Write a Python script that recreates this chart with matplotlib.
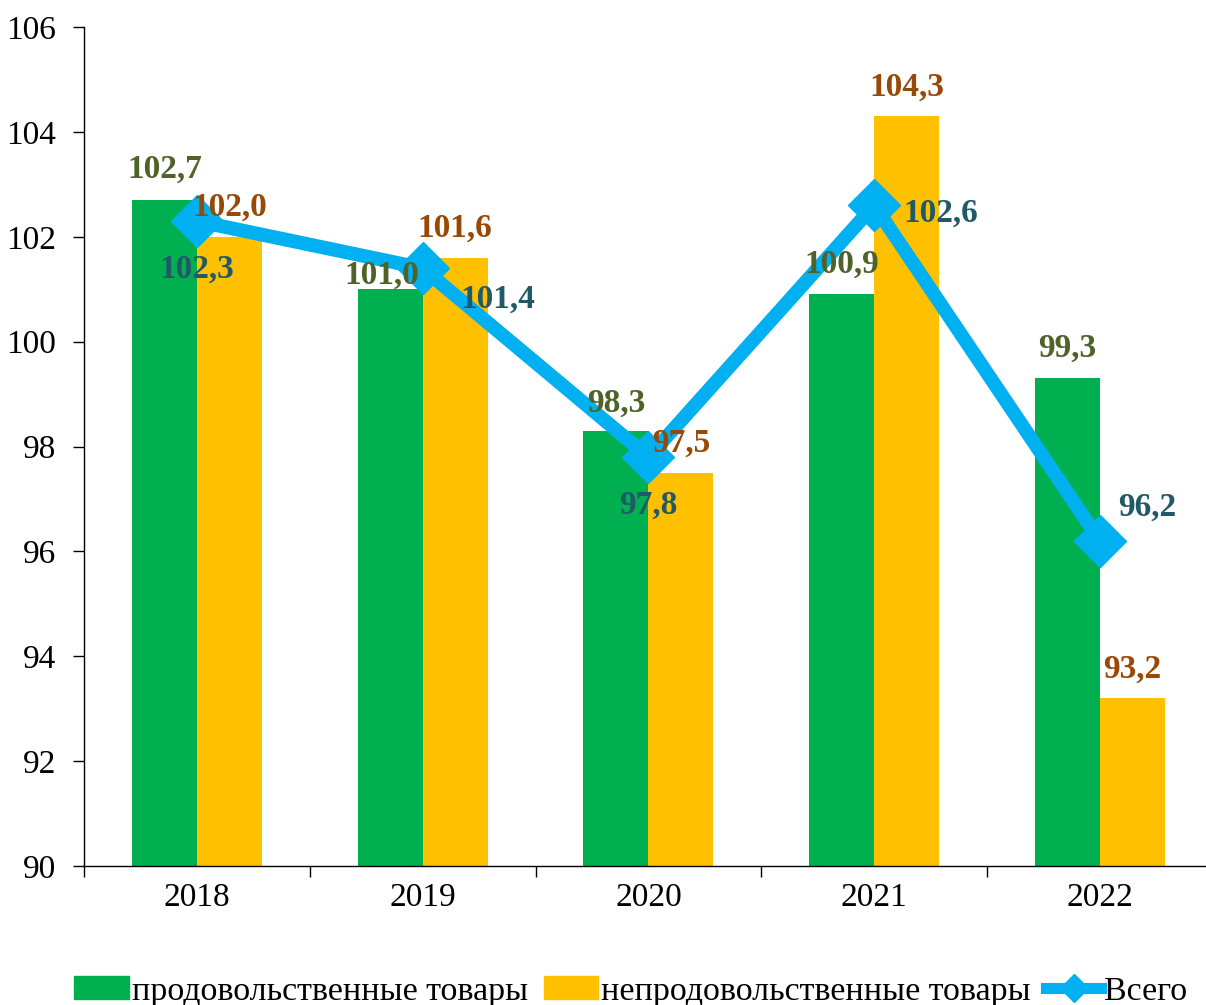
import numpy as np
import matplotlib.pyplot as plt
from matplotlib.lines import Line2D
from matplotlib.patches import Patch

years = ['2018', '2019', '2020', '2021', '2022']
food = [102.7, 101.0, 98.3, 100.9, 99.3]
nonfood = [102.0, 101.6, 97.5, 104.3, 93.2]
total = [102.3, 101.4, 97.8, 102.6, 96.2]

# label offsets in points (dx, dy) from the value anchor
food_off = [(0, 22), (-6, 10), (0, 20), (0, 22), (0, 22)]
nonfood_off = [(0, 21), (0, 21), (0, 21), (0, 21), (0, 21)]
total_off = [(0, -35), (54, -22), (0, -35), (48, -6), (34, 24)]

plt.rcParams['font.family'] = ['Liberation Serif', 'DejaVu Serif']

fig = plt.figure(figsize=(12.06, 10.05), dpi=100)
ax = fig.add_axes([0.0697, 0.1383, 0.936, 0.8348])

x = np.arange(len(years))
w = 0.288
ax.bar(x - w / 2, food, w, color='#00B050', zorder=1)
ax.bar(x + w / 2, nonfood, w, color='#FFC000', zorder=1)
ax.plot(x, total, color='#00B0F0', lw=10, marker='D', ms=26, zorder=3)

for i in range(len(x)):
    ax.annotate(f'{food[i]:.1f}'.replace('.', ','), (x[i] - w / 2, food[i]),
                xytext=food_off[i], textcoords='offset points', ha='center', va='center',
                fontsize=24, fontweight='bold', color='#4F6228', zorder=4)
    ax.annotate(f'{nonfood[i]:.1f}'.replace('.', ','), (x[i] + w / 2, nonfood[i]),
                xytext=nonfood_off[i], textcoords='offset points', ha='center', va='center',
                fontsize=24, fontweight='bold', color='#984807', zorder=4)
    ax.annotate(f'{total[i]:.1f}'.replace('.', ','), (x[i], total[i]),
                xytext=total_off[i], textcoords='offset points', ha='center', va='center',
                fontsize=24, fontweight='bold', color='#215968', zorder=4)

ax.set_ylim(90, 106)
ax.set_yticks(np.arange(90, 107, 2))
ax.set_xlim(-0.5, 4.5)
ax.set_xticks(x)
ax.set_xticklabels(years)
ax.set_xticks(np.arange(-0.5, 5, 1), minor=True)
ax.tick_params(axis='x', which='major', length=0, labelsize=24, pad=12)
ax.tick_params(axis='x', which='minor', length=8, width=1)
ax.tick_params(axis='y', length=8, width=1, labelsize=24, pad=12)
for s in ['top', 'right']:
    ax.spines[s].set_visible(False)
for s in ['left', 'bottom']:
    ax.spines[s].set_linewidth(1)

handles = [Patch(color='#00B050'), Patch(color='#FFC000'),
           Line2D([], [], color='#00B0F0', lw=8, marker='D', ms=14)]
labels = ['продовольственные товары', 'непродовольственные товары', 'Всего']
fig.legend(handles, labels, loc='lower center', bbox_to_anchor=(0.523, -0.032), ncol=3, frameon=False,
           fontsize=24.5, handlelength=1.6, handleheight=0.65, handletextpad=0.1, columnspacing=0.45)

fig.savefig('out.png', dpi=100)
